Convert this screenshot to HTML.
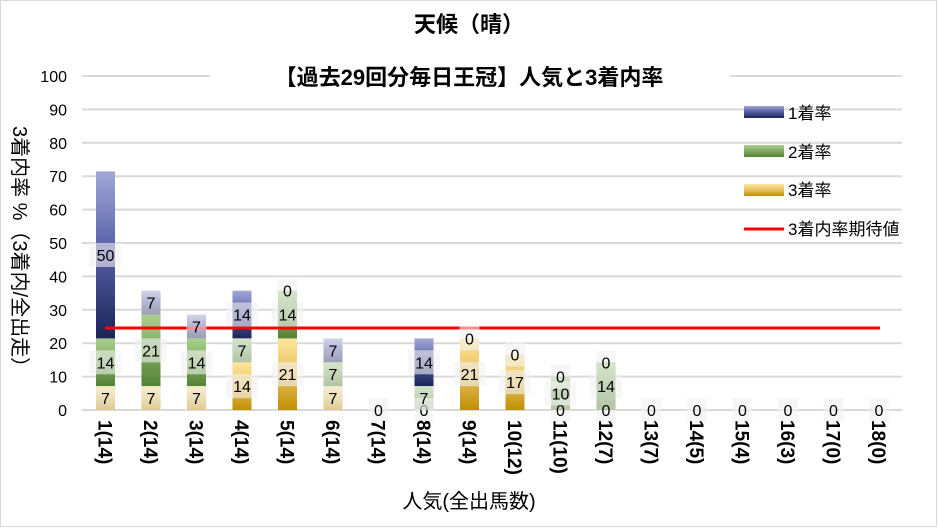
<!DOCTYPE html>
<html><head><meta charset="utf-8"><style>
html,body{margin:0;padding:0;background:#fff}
svg{display:block;font-family:"Liberation Sans","Noto Sans CJK JP",sans-serif}
</style></head><body>
<svg id="s" width="938" height="528" viewBox="0 0 938 528" xmlns="http://www.w3.org/2000/svg">
<defs>
<linearGradient id="gb" x1="0" y1="0" x2="0" y2="1"><stop offset="0" stop-color="#a3a8d8"/><stop offset="0.45" stop-color="#5a62a8"/><stop offset="1" stop-color="#1c2458"/></linearGradient>
<linearGradient id="gg" x1="0" y1="0" x2="0" y2="1"><stop offset="0" stop-color="#a9d18e"/><stop offset="1" stop-color="#548235"/></linearGradient>
<linearGradient id="gy" x1="0" y1="0" x2="0" y2="1"><stop offset="0" stop-color="#ffe699"/><stop offset="0.5" stop-color="#e8c165"/><stop offset="1" stop-color="#bf8f00"/></linearGradient>
</defs>
<rect x="0.5" y="0.5" width="936" height="526" fill="#fff" stroke="#d9d9d9"/>
<g id="grid"></g>
<rect x="210" y="60" width="520" height="32" fill="#fff"/>
<text x="469" y="32" font-size="22" font-weight="bold" text-anchor="middle">天候（晴）</text>
<text x="469" y="85" font-size="22" font-weight="bold" text-anchor="middle">【過去29回分毎日王冠】人気と3着内率</text>
<g id="bars"></g>
<line x1="105" y1="328" x2="880" y2="328" stroke="#ff0000" stroke-width="3"/>
<g id="labels"></g>
<g id="axis" font-size="16" fill="#000"></g>
<text transform="translate(13,126) rotate(90)" font-size="20">3着内率 %（3着内/全出走）</text>
<text x="469" y="508" font-size="20" text-anchor="middle">人気(全出馬数)</text>
<rect x="744" y="106" width="40" height="12" fill="url(#gb)"/>
<text x="788" y="119" font-size="17">1着率</text>
<rect x="744" y="145" width="40" height="12" fill="url(#gg)"/>
<text x="788" y="158" font-size="17">2着率</text>
<rect x="744" y="184" width="40" height="12" fill="url(#gy)"/>
<text x="788" y="196" font-size="17">3着率</text>
<line x1="744" y1="229" x2="784" y2="229" stroke="#ff0000" stroke-width="3"/>
<text x="788" y="235" font-size="17">3着内率期待値</text>
</svg>
<script>
var NS="http://www.w3.org/2000/svg";
function el(p,t,a,txt){var e=document.createElementNS(NS,t);for(var k in a)e.setAttribute(k,a[k]);if(txt!=null)e.textContent=txt;p.appendChild(e);return e;}
function Y(v){return 410-3.34*v;}
var grid=document.getElementById('grid'),axis=document.getElementById('axis');
for(var i=0;i<=10;i++){var y=Y(i*10);el(grid,'line',{x1:82,x2:902,y1:y,y2:y,stroke:'#d9d9d9','stroke-width':2});
el(axis,'text',{x:67,y:y+6,'text-anchor':'end'},String(i*10));}
var data=[[7.14,14.29,50,7,14,50],[7.14,21.43,7.14,7,21,7],[7.14,14.29,7.14,7,14,7],[14.29,7.14,14.29,14,7,14],[21.43,14.29,0,21,14,0],[7.14,7.14,7.14,7,7,7],[0,0,0,0,null,null],[0,7.14,14.29,0,7,14],[21.43,0,0,21,0,null],[16.67,0,0,17,0,null],[0,10,0,0,10,0],[0,14.29,0,0,14,0],[0,0,0,0,null,null],[0,0,0,0,null,null],[0,0,0,0,null,null],[0,0,0,0,null,null],[0,0,0,0,null,null],[0,0,0,0,null,null]];
var names=['1(14)','2(14)','3(14)','4(14)','5(14)','6(14)','7(14)','8(14)','9(14)','10(12)','11(10)','12(7)','13(7)','14(5)','15(4)','16(3)','17(0)','18(0)'];
var bars=document.getElementById('bars'),labs=document.getElementById('labels');
var fills=['url(#gy)','url(#gg)','url(#gb)'];
data.forEach(function(d,i){
 var cx=105.5+i*45.5,base=0;
 for(var j=0;j<3;j++){
  var v=d[j],y0=Y(base),y1=Y(base+v);
  if(v>0)el(bars,'rect',{x:cx-9.5,y:y1,width:19,height:y0-y1,fill:fills[j]});
  var lab=d[3+j];
  if(lab!=null){var ym=(y0+y1)/2;
   el(labs,'rect',{x:cx-(String(lab).length>1?16:10),y:ym-12,width:String(lab).length>1?32:20,height:24,fill:'rgba(242,242,242,0.6)'});
   el(labs,'text',{x:cx,y:ym+6,'font-size':16,'text-anchor':'middle'},String(lab));}
  base+=v;
 }
 el(axis,'text',{transform:'translate('+(cx-7)+',420) rotate(90)','font-size':19,'font-weight':'bold'},names[i]);
});
</script>
</body></html>
